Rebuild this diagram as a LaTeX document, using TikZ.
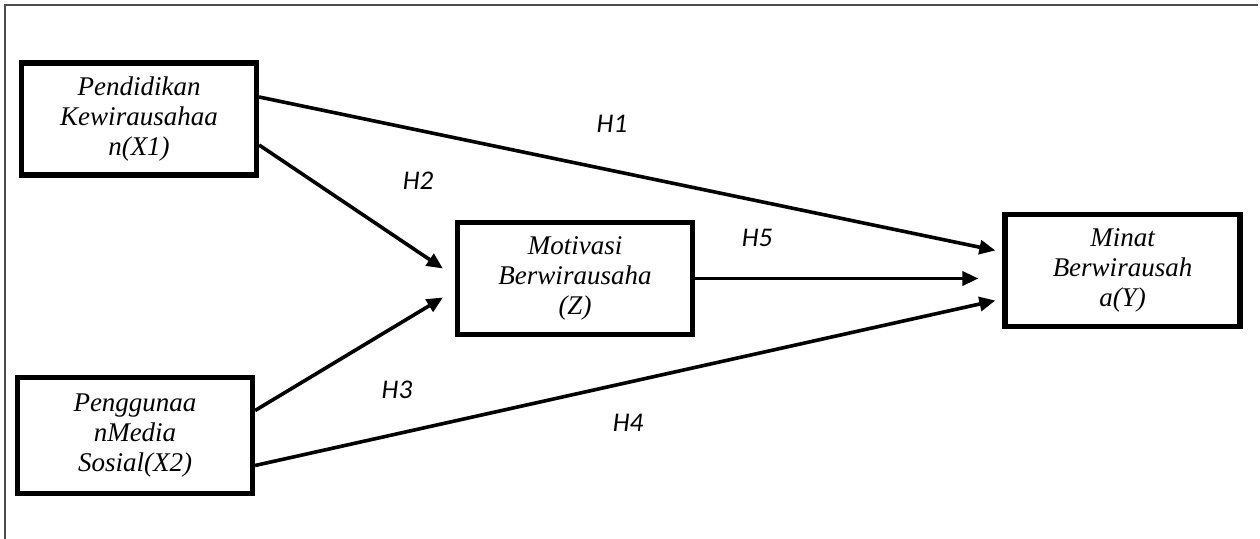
\documentclass[tikz,border=0pt]{standalone}
\usepackage{fontspec}
\setmainfont{Liberation Serif}
\newfontfamily\labelfont{Carlito}
\usetikzlibrary{arrows.meta,calc}

\begin{document}
\begin{tikzpicture}[x=0.5pt, y=-0.5pt,
        box/.style={draw, line width=2.6pt, minimum width=117.5pt, minimum height=56pt, inner sep=0pt, align=center, font=\fontsize{13.5}{15}\selectfont\itshape},
        link/.style={line width=1.8pt, -{Triangle[length=8pt,width=7pt]}},
        hyp/.style={font=\labelfont\fontsize{13.5}{15}\selectfont\itshape}]
        \useasboundingbox (0, 0) rectangle (1260, 539);

        % frame
        \draw[line width=1pt, black!70] (5, 539) -- (5, 5) -- (1258, 5);

        % variables
        \node[box] (X1) at (139, 119) {Pendidikan\\Kewirausahaa\\n(X1)};
        \node[box, minimum height=58pt] (X2) at (135, 435.5) {Penggunaa\\nMedia\\Sosial(X2)};
        \node[box] (Z) at (575, 278.5) {Motivasi\\Berwirausaha\\(Z)};
        \node[box] (Y) at (1122.5, 270.5) {Minat\\Berwirausah\\a(Y)};

        % paths
        \draw[link] ($(X1.east)+(0, -22)$) -- ($(Y.west)+(-7, -20)$);
        \draw[link] ($(X1.east)+(0, 26)$) -- ($(Z.west)+(-12, -10)$);
        \draw[link] ($(X2.east)+(0, -25)$) -- ($(Z.west)+(-12, 19)$);
        \draw[link] ($(X2.east)+(0, 30)$) -- ($(Y.west)+(-7, 30)$);
        \draw[link] (Z.east) -- ($(Y.west |- Z.east)+(-24, 0)$);

        \node[hyp] (h1) at (612, 124) {H1};
        \node[hyp] (h2) at (418, 181) {H2};
        \node[hyp] (h3) at (397, 390) {H3};
        \node[hyp] (h4) at (628, 423) {H4};
        \node[hyp] (h5) at (757, 238) {H5};
    \end{tikzpicture}
\end{document}
